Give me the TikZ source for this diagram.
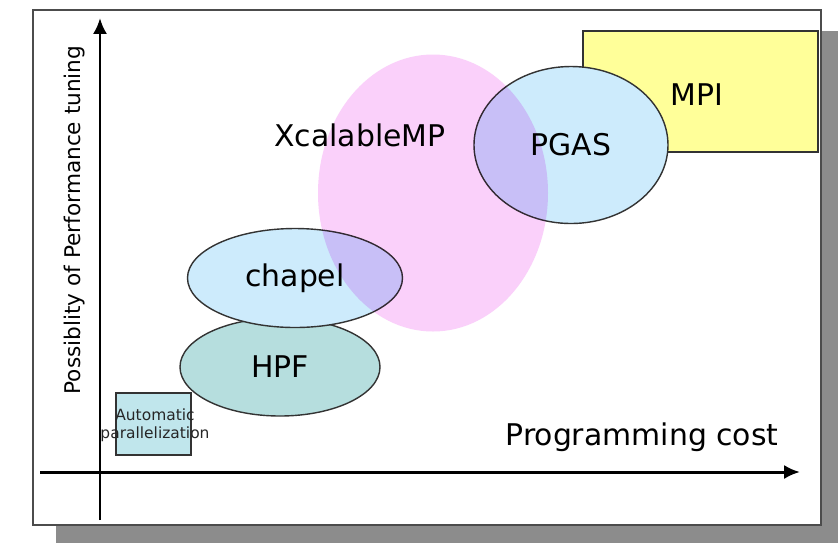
\documentclass[tikz,border=0pt]{standalone}
\usepackage{fontspec}
\setmainfont{DejaVu Sans}
\usepackage{tikz}
\usetikzlibrary{shapes.geometric,arrows.meta}

\definecolor{shadowgray}{RGB}{140,140,140}
\definecolor{mpiyellow}{RGB}{255,255,153}
\definecolor{xmppink}{RGB}{250,208,250}
\definecolor{pgasblue}{RGB}{205,235,252}
\definecolor{hpfteal}{RGB}{182,222,222}
\definecolor{autoteal}{RGB}{192,230,236}

\begin{document}
\begin{tikzpicture}[
		bigtext/.style={font=\fontsize{17}{20}\selectfont},
		blob/.style={ellipse,draw=black!80,line width=0.8pt,inner sep=0pt,bigtext},
		axis/.style={line width=1.7pt,-{Latex[length=9pt,width=8pt]}}]
		\useasboundingbox (0,0) rectangle (16.76,-10.84);
		% frame with shadow
		\fill[shadowgray] (1.12,-0.62) rectangle (16.88,-10.92);
		\filldraw[fill=white,draw=black!70,line width=0.6pt] (0.66,-0.2) rectangle (16.42,-10.5);
		
		\filldraw[fill=mpiyellow,draw=black!80,line width=0.8pt] (11.66,-0.62) rectangle (16.36,-3.04);
		\node[bigtext] (mpi) at (13.94,-1.9) {MPI};
		
		\node[blob,fill=pgasblue,minimum width=3.88cm,minimum height=3.14cm] (pgas) at (11.42,-2.9) {PGAS};
		\node[blob,fill=hpfteal,minimum width=4.0cm,minimum height=1.96cm] (hpf) at (5.6,-7.34) {HPF};
		\node[blob,fill=pgasblue,minimum width=4.3cm,minimum height=1.98cm] (chapel) at (5.9,-5.56) {chapel};
		
		\node[bigtext] (xmplabel) at (7.2,-2.7) {XcalableMP};
		% pink area laid over the others
		\node[ellipse,fill=xmppink,blend mode=multiply,minimum width=4.6cm,minimum height=5.54cm] (xmp) at (8.66,-3.86) {};
		
		\filldraw[fill=autoteal,draw=black!80,line width=0.8pt] (2.32,-7.86) rectangle (3.82,-9.1);
		\node[font=\fontsize{8.8}{10}\selectfont,align=center,inner sep=0pt,text=black!85] (auto) at (3.1,-8.5) {Automatic\\parallelization};
		
		\draw[axis] (2.0,-10.4) -- (2.0,-0.36);
		\draw[axis] (0.8,-9.44) -- (16.0,-9.44);
		
		\node[bigtext] (xlabel) at (12.84,-8.74) {Programming cost};
		\node[font=\fontsize{12.3}{14}\selectfont,rotate=90] (ylabel) at (1.5,-4.4) {Possiblity of Performance tuning};
\end{tikzpicture}
\end{document}
